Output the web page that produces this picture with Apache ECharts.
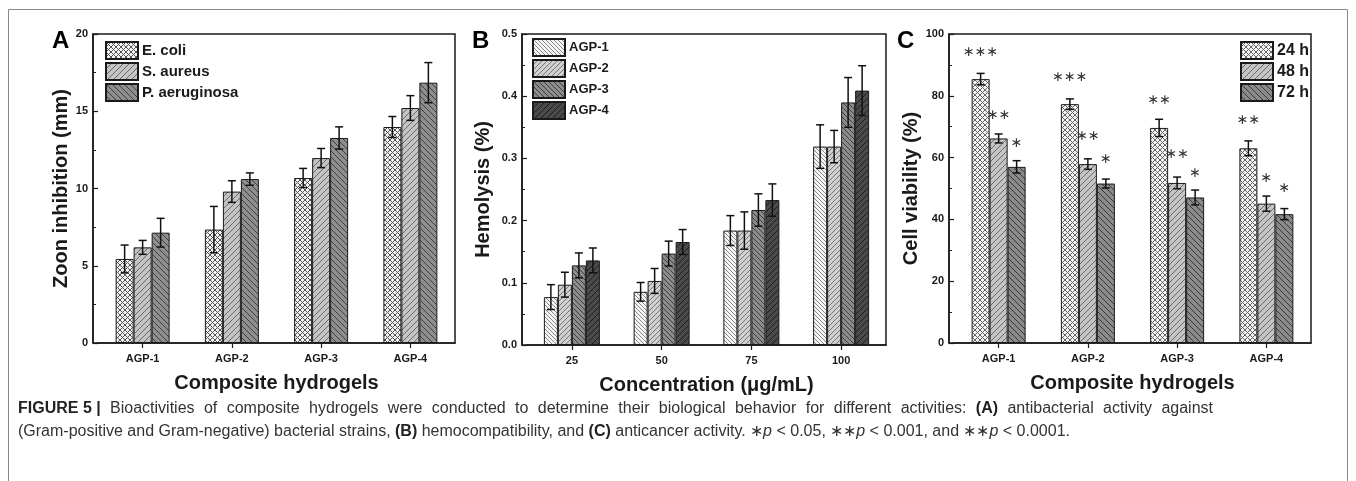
<!DOCTYPE html>
<html>
<head>
<meta charset="utf-8">
<script src="https://cdn.jsdelivr.net/npm/echarts@6/dist/echarts.min.js"></script>
<style>html,body{margin:0;padding:0;background:#fff;}#c{width:1356px;height:481px;}</style>
</head>
<body>
<div id="c"></div>
<script>
// ---------- DATA ----------
const catsA = ['AGP-1', 'AGP-2', 'AGP-3', 'AGP-4'];
const namesA = ['E. coli', 'S. aureus', 'P. aeruginosa'];
const ecoli = [5.44, 7.34, 10.68, 13.98];
const ecoliErr = [0.9, 1.5, 0.62, 0.68];
const saureus = [6.19, 9.80, 11.97, 15.21];
const saureusErr = [0.45, 0.7, 0.62, 0.8];
const paer = [7.14, 10.61, 13.27, 16.85];
const paerErr = [0.93, 0.4, 0.72, 1.3];

const catsB = ['25', '50', '75', '100'];
const namesB = ['AGP-1', 'AGP-2', 'AGP-3', 'AGP-4'];
const hem1 = [0.077, 0.0855, 0.184, 0.319];
const hem1Err = [0.02, 0.015, 0.024, 0.035];
const hem2 = [0.097, 0.103, 0.184, 0.319];
const hem2Err = [0.02, 0.02, 0.03, 0.026];
const hem3 = [0.128, 0.147, 0.217, 0.39];
const hem3Err = [0.02, 0.02, 0.026, 0.04];
const hem4 = [0.136, 0.1656, 0.233, 0.409];
const hem4Err = [0.02, 0.02, 0.026, 0.04];

const catsC = ['AGP-1', 'AGP-2', 'AGP-3', 'AGP-4'];
const namesC = ['24 h', '48 h', '72 h'];
const h24 = [85.4, 77.3, 69.6, 63.0];
const h24Err = [1.85, 1.7, 2.8, 2.4];
const h48 = [66.2, 57.9, 51.8, 45.1];
const h48Err = [1.45, 1.7, 1.9, 2.45];
const h72 = [57.0, 51.6, 47.1, 41.7];
const h72Err = [2.0, 1.45, 2.4, 1.8];
const stars24 = ['∗∗∗', '∗∗∗', '∗∗', '∗∗'];
const stars24Y = [94, 86, 78.5, 72];
const stars48 = ['∗∗', '∗∗', '∗∗', '∗'];
const stars48Y = [73.7, 67, 61, 53.4];
const stars72 = ['∗', '∗', '∗', '∗'];
const stars72Y = [64.5, 59.5, 55, 50];

const caption1 = '{b|FIGURE 5 |} Bioactivities of composite hydrogels were conducted to determine their biological behavior for different activities: {b|(A)} antibacterial activity against';
const caption2 = '(Gram-positive and Gram-negative) bacterial strains, {b|(B)} hemocompatibility, and {b|(C)} anticancer activity. ∗{i|p} < 0.05, ∗∗{i|p} < 0.001, and ∗∗{i|p} < 0.0001.';

// ---------- STYLE HELPERS ----------
const FONT = '"Liberation Sans", Arial, sans-serif';
const CAP = '"DejaVu Sans", sans-serif';
const INK = '#1a1a1a';
const capFonts = {
  '': '16px ' + FONT,
  b: 'bold 16px ' + FONT,
  i: 'italic 16px ' + FONT
};

function pattern(bg, line, type, s) {
  const c = document.createElement('canvas');
  c.width = s; c.height = s;
  const g = c.getContext('2d');
  g.fillStyle = bg; g.fillRect(0, 0, s, s);
  g.strokeStyle = line; g.lineWidth = 1;
  function fwd() { for (let k = -1; k <= 1; k++) { g.beginPath(); g.moveTo(k * s, s); g.lineTo(k * s + s, 0); g.stroke(); } }
  function back() { for (let k = -1; k <= 1; k++) { g.beginPath(); g.moveTo(k * s, 0); g.lineTo(k * s + s, s); g.stroke(); } }
  if (type === 'fwd') fwd();
  else if (type === 'back') back();
  else { fwd(); back(); }
  return { image: c, repeat: 'repeat' };
}

// justify a rich-markup line to a target width by widening the word gaps
const mctx = document.createElement('canvas').getContext('2d');
function splitWords(str) {
  const out = []; let cur = '', depth = 0;
  for (const ch of str) {
    if (ch === '{') depth++;
    if (ch === '}') depth--;
    if (ch === ' ' && depth === 0) { out.push(cur); cur = ''; } else cur += ch;
  }
  out.push(cur);
  return out;
}
function wordWidth(w) {
  const re = /\{(\w+)\|([^}]*)\}|([^{]+)/g; let m, total = 0;
  while ((m = re.exec(w))) {
    const style = m[1] || '', txt = m[1] ? m[2] : m[3];
    mctx.font = capFonts[style]; total += mctx.measureText(txt).width;
  }
  return total;
}
function justify(str, target) {
  const words = splitWords(str);
  const sum = words.reduce((a, w) => a + wordWidth(w), 0);
  const gap = (target - sum) / (words.length - 1);
  return { text: words.join('{s| }'), gap: gap };
}

const patA = [pattern('#f2f2f2', '#555', 'cross', 5), pattern('#c4c4c4', '#6a6a6a', 'fwd', 6), pattern('#8e8e8e', '#404040', 'back', 6)];
const patB = [pattern('#f4f4f4', '#8a8a8a', 'back', 4), pattern('#d0d0d0', '#777', 'fwd', 5), pattern('#8c8c8c', '#404040', 'back', 5), pattern('#4a4a4a', '#1e1e1e', 'fwd', 6)];
const patC = [pattern('#f4f4f4', '#666', 'cross', 5), pattern('#c4c4c4', '#6a6a6a', 'fwd', 6), pattern('#8a8a8a', '#3a3a3a', 'back', 6)];

const frames = [
  { l: 93, t: 34, r: 455, b: 343 },
  { l: 522, t: 34, r: 886, b: 345 },
  { l: 949, t: 34, r: 1311, b: 343 }
];
const INSET = 5;

function dataGrid(f) { return { left: f.l + INSET, top: f.t, width: f.r - f.l - INSET, height: f.b - f.t, show: false }; }
function frameGrid(f) { return { left: f.l, top: f.t, width: f.r - f.l, height: f.b - f.t, show: true, borderColor: INK, borderWidth: 1.5, backgroundColor: 'transparent', z: 1 }; }

function xCat(idx, cats, name) {
  return {
    type: 'category', gridIndex: idx, data: cats,
    axisLine: { show: true, lineStyle: { color: INK, width: 1.5 } },
    axisTick: { show: true, alignWithLabel: true, length: 5, lineStyle: { color: INK, width: 1.2 } },
    axisLabel: { color: INK, fontFamily: FONT, fontWeight: 'bold', fontSize: 11, margin: 10 },
    name: name, nameLocation: 'middle', nameGap: 30,
    nameTextStyle: { color: INK, fontFamily: FONT, fontWeight: 'bold', fontSize: 20 }
  };
}
function yVal(idx, min, max, interval, name, gap, fmt) {
  return {
    type: 'value', gridIndex: idx, min: min, max: max, interval: interval, offset: INSET,
    axisLine: { show: true, lineStyle: { color: INK, width: 1.5 } },
    axisTick: { show: true, inside: true, length: 5, lineStyle: { color: INK, width: 1.2 } },
    minorTick: { show: true, splitNumber: 2, length: 3, lineStyle: { color: INK, width: 1 } },
    splitLine: { show: false },
    axisLabel: { color: INK, fontFamily: FONT, fontWeight: 'bold', fontSize: 11, margin: 5, formatter: fmt },
    name: name, nameLocation: 'middle', nameGap: gap, nameRotate: 90,
    nameTextStyle: { color: INK, fontFamily: FONT, fontWeight: 'bold', fontSize: 20 }
  };
}

function bar(name, axis, vals, pat, w) {
  return {
    name: name, type: 'bar', xAxisIndex: axis, yAxisIndex: axis, data: vals,
    barWidth: w, barGap: '0%',
    itemStyle: { color: pat, borderColor: INK, borderWidth: 1 },
    emphasis: { disabled: true }, z: 3
  };
}
function errs(axis, vals, es, offset) {
  return {
    type: 'custom', xAxisIndex: axis, yAxisIndex: axis, silent: true, z: 10,
    data: vals.map((v, i) => [i, v, es[i]]),
    renderItem: function (params, api) {
      const i = api.value(0), v = api.value(1), e = api.value(2);
      const x = api.coord([i, v])[0] + offset;
      const hi = api.coord([i, v + e])[1];
      const lo = api.coord([i, v - e])[1];
      const st = { stroke: '#111', lineWidth: 1.5 };
      return {
        type: 'group', children: [
          { type: 'line', shape: { x1: x, y1: hi, x2: x, y2: lo }, style: st },
          { type: 'line', shape: { x1: x - 4, y1: hi, x2: x + 4, y2: hi }, style: st },
          { type: 'line', shape: { x1: x - 4, y1: lo, x2: x + 4, y2: lo }, style: st }
        ]
      };
    }
  };
}
function stars(axis, texts, ys, offset) {
  return {
    type: 'custom', xAxisIndex: axis, yAxisIndex: axis, silent: true, z: 11,
    data: ys.map((y, i) => [i, y]),
    renderItem: function (params, api) {
      const i = api.value(0);
      const p = api.coord([i, api.value(1)]);
      return {
        type: 'text', x: p[0] + offset, y: p[1],
        style: { text: texts[params.dataIndex], fill: '#333', font: '14px ' + CAP, align: 'center', verticalAlign: 'middle' }
      };
    }
  };
}
function legend(left, top, names, size) {
  return {
    left: left, top: top, orient: 'vertical', data: names, icon: 'rect',
    itemWidth: 32, itemHeight: 17, itemGap: 2, padding: 0, selectedMode: false,
    textStyle: { color: INK, fontFamily: FONT, fontWeight: 'bold', fontSize: size, padding: [0, 0, 0, -1] }
  };
}

const wA = 18, wB = 14, wC = 18;
const line1 = justify(caption1, 1195);
const capRich = {
  b: { font: capFonts.b, fill: '#222' },
  i: { font: capFonts.i, fill: '#333' }
};

const option = {
  animation: false,
  backgroundColor: '#fff',
  grid: [dataGrid(frames[0]), dataGrid(frames[1]), dataGrid(frames[2]), frameGrid(frames[0]), frameGrid(frames[1]), frameGrid(frames[2])],
  xAxis: [
    xCat(0, catsA, 'Composite hydrogels'),
    xCat(1, catsB, 'Concentration (μg/mL)'),
    xCat(2, catsC, 'Composite hydrogels'),
    { type: 'value', gridIndex: 3, show: false }, { type: 'value', gridIndex: 4, show: false }, { type: 'value', gridIndex: 5, show: false }
  ],
  yAxis: [
    yVal(0, 0, 20, 5, 'Zoon inhibition (mm)', 22),
    yVal(1, 0, 0.5, 0.1, 'Hemolysis (%)', 29, v => v.toFixed(1)),
    yVal(2, 0, 100, 20, 'Cell viability (%)', 27),
    { type: 'value', gridIndex: 3, show: false }, { type: 'value', gridIndex: 4, show: false }, { type: 'value', gridIndex: 5, show: false }
  ],
  legend: [legend(105, 41, namesA, 15), legend(532, 38, namesB, 13), legend(1240, 41, namesC, 16)],
  series: [
    bar(namesA[0], 0, ecoli, patA[0], wA), bar(namesA[1], 0, saureus, patA[1], wA), bar(namesA[2], 0, paer, patA[2], wA),
    errs(0, ecoli, ecoliErr, -wA), errs(0, saureus, saureusErr, 0), errs(0, paer, paerErr, wA),
    bar(namesB[0], 1, hem1, patB[0], wB), bar(namesB[1], 1, hem2, patB[1], wB), bar(namesB[2], 1, hem3, patB[2], wB), bar(namesB[3], 1, hem4, patB[3], wB),
    errs(1, hem1, hem1Err, -1.5 * wB), errs(1, hem2, hem2Err, -0.5 * wB), errs(1, hem3, hem3Err, 0.5 * wB), errs(1, hem4, hem4Err, 1.5 * wB),
    bar(namesC[0], 2, h24, patC[0], wC), bar(namesC[1], 2, h48, patC[1], wC), bar(namesC[2], 2, h72, patC[2], wC),
    errs(2, h24, h24Err, -wC), errs(2, h48, h48Err, 0), errs(2, h72, h72Err, wC),
    stars(2, stars24, stars24Y, -wC), stars(2, stars48, stars48Y, 0), stars(2, stars72, stars72Y, wC)
  ],
  graphic: [
    { type: 'rect', shape: { x: 8.5, y: 9.5, width: 1339, height: 490 }, style: { fill: 'none', stroke: '#888', lineWidth: 1 }, silent: true, z: -1 },
    { type: 'text', left: 52, top: 29, style: { text: 'A', font: 'bold 24px ' + FONT, fill: '#000' } },
    { type: 'text', left: 472, top: 29, style: { text: 'B', font: 'bold 24px ' + FONT, fill: '#000' } },
    { type: 'text', left: 897, top: 29, style: { text: 'C', font: 'bold 24px ' + FONT, fill: '#000' } },
    {
      type: 'text', left: 18, top: 401,
      style: {
        text: line1.text, font: capFonts[''], fill: '#333',
        rich: Object.assign({ s: { font: capFonts[''], width: line1.gap } }, capRich)
      }
    },
    {
      type: 'text', left: 18, top: 424,
      style: { text: caption2, font: capFonts[''], fill: '#333', rich: capRich }
    }
  ]
};

const chart = echarts.init(document.getElementById('c'), null, { renderer: 'canvas' });
chart.setOption(option);
</script>
</body>
</html>
